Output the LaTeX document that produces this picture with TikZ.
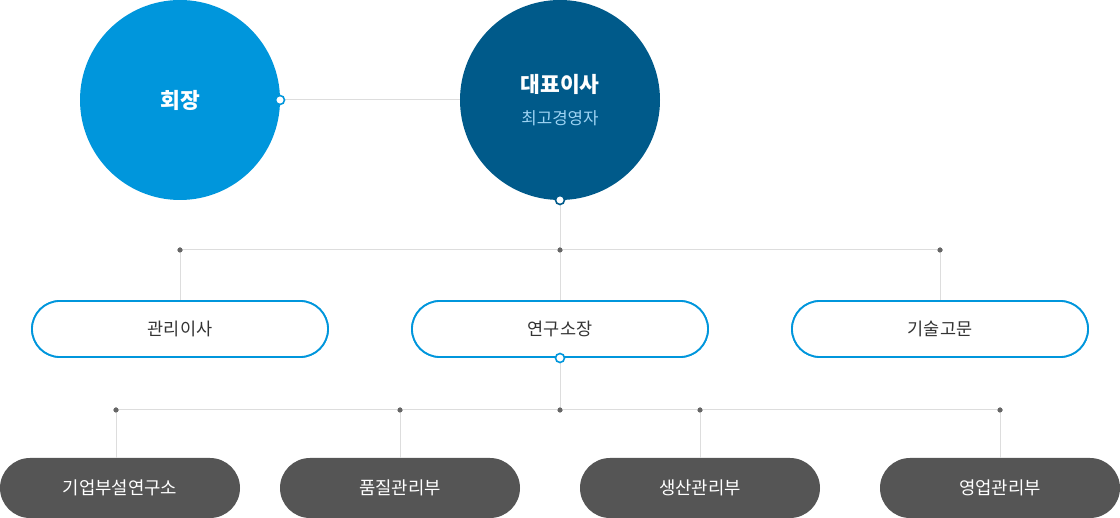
\documentclass[tikz,border=0pt]{standalone}
\usepackage{fontspec}
\newfontfamily\kr{Noto Sans CJK KR}
\definecolor{cblue}{HTML}{0096DC}
\definecolor{cdark}{HTML}{005A8A}
\definecolor{csub}{HTML}{9DD3F3}
\definecolor{cline}{HTML}{DDDDDD}
\definecolor{cdot}{HTML}{666666}
\definecolor{cgray}{HTML}{555555}
\definecolor{ctext}{HTML}{333333}
\tikzset{
  bigcircle/.style={circle,minimum size=200pt,inner sep=0pt,font=\kr\fontsize{21.5}{26}\selectfont\bfseries,text=white},
  midbox/.style={draw=cblue,line width=1.8pt,fill=white,rounded corners=28pt,minimum width=296pt,minimum height=56pt,inner sep=0pt,font=\kr\fontsize{17.5}{21}\selectfont,text=ctext},
  lowbox/.style={fill=cgray,rounded corners=30pt,minimum width=240pt,minimum height=60pt,inner sep=0pt,font=\kr\fontsize{17.8}{21}\selectfont,text=white},
  dotnode/.style={circle,fill=cdot,minimum size=5pt,inner sep=0pt},
  ring/.style={circle,fill=white,draw=#1,line width=1.6pt,minimum size=9pt,inner sep=0pt},
  conn/.style={draw=cline,line width=1pt},
}
\begin{document}
\begin{tikzpicture}[x=1pt,y=-1pt]
\useasboundingbox (0,0) rectangle (1120,518);
% top circles
\node[bigcircle,fill=cblue] (chair) at (180,100) {회장};
\node[bigcircle,fill=cdark] (ceo) at (560,100) {};
\node[font=\kr\fontsize{21.5}{26}\selectfont\bfseries,text=white] (ceot) at (560,84) {대표이사};
\node[font=\kr\fontsize{16.8}{20}\selectfont,text=csub] (ceos) at (560,118) {최고경영자};
% coordinates
\coordinate (cr) at (280,100);
\coordinate (cb) at (560,200);
\coordinate (mb) at (560,358);
% middle row
\node[dotnode] (d1) at (180,250) {};
\node[dotnode] (d2) at (560,250) {};
\node[dotnode] (d3) at (940,250) {};
\node[midbox] (m1) at (180,329) {관리이사};
\node[midbox] (m2) at (560,329) {연구소장};
\node[midbox] (m3) at (940,329) {기술고문};
% bottom row
\node[dotnode] (e1) at (116,410) {};
\node[dotnode] (e2) at (400,410) {};
\node[dotnode] (e3) at (560,410) {};
\node[dotnode] (e4) at (700,410) {};
\node[dotnode] (e5) at (1000,410) {};
\node[lowbox] (b1) at (120,488) {기업부설연구소};
\node[lowbox] (b2) at (400,488) {품질관리부};
\node[lowbox] (b3) at (700,488) {생산관리부};
\node[lowbox] (b4) at (1000,488) {영업관리부};
% connectors
\draw[conn] (cr) -- (ceo.west);
\draw[conn] (cb) -- (d2);
\draw[conn] (d1) -- (d3);
\draw[conn] (d1) -- (m1.north);
\draw[conn] (d3) -- (m3.north);
\draw[conn] (d2) -- (m2.north);
\draw[conn] (mb) -- (e3);
\draw[conn] (e1) -- (e5);
\draw[conn] (e1) -- (b1.north -| e1);
\draw[conn] (e2) -- (b2.north);
\draw[conn] (e4) -- (b3.north);
\draw[conn] (e5) -- (b4.north);
% redraw boxes/dots on top of lines
\node[midbox] at (m1) {관리이사};
\node[midbox] at (m2) {연구소장};
\node[midbox] at (m3) {기술고문};
\foreach \d in {d1,d2,d3,e1,e2,e3,e4,e5} {\node[dotnode] at (\d) {};}
\node[ring=cblue] (r1) at (cr) {};
\node[ring=cdark] (r2) at (cb) {};
\node[ring=cblue] (r3) at (mb) {};
\end{tikzpicture}
\end{document}
